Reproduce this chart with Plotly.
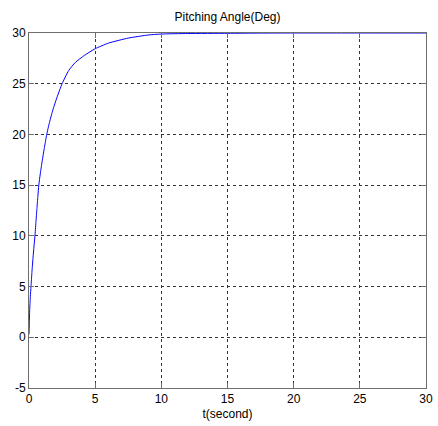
import plotly.graph_objects as go

# Pitching angle step response (degrees) versus time (seconds)
t_sec = [0, 0.02, 0.05, 0.1, 0.15, 0.22, 0.3, 0.38, 0.45, 0.52, 0.6, 0.67, 0.74, 0.85,
         1.0, 1.15, 1.34, 1.55, 1.8, 2.1, 2.5, 3.0, 3.5, 4.2, 5.0, 6.0, 7.5, 9.0,
         10.0, 12.0, 15.0, 17.5, 20.0, 25.0, 30.0]
pitch_deg = [0.3, 1.2, 2.6, 4.0, 5.0, 6.4, 7.8, 9.0, 10.0, 11.3, 12.7, 13.9, 15.0, 16.1,
             17.4, 18.6, 20.0, 21.2, 22.4, 23.6, 25.0, 26.3, 27.1, 27.8, 28.45, 29.0, 29.5, 29.8,
             29.9, 29.95, 29.97, 29.99, 30.0, 30.0, 30.0]

x_ticks = [0, 5, 10, 15, 20, 25, 30]
y_ticks = [-5, 0, 5, 10, 15, 20, 25, 30]

fig = go.Figure()
fig.add_trace(go.Scatter(
    x=t_sec, y=pitch_deg, mode="lines",
    line=dict(color="#0000ff", width=1, shape="spline", smoothing=0.5),
    cliponaxis=False, showlegend=False,
))

axis_common = dict(
    showline=True, linecolor="#6e6e6e", linewidth=1, mirror="ticks",
    ticks="inside", ticklen=5, tickcolor="#6e6e6e",
    showgrid=True, gridcolor="#333333", gridwidth=1, griddash="3px,3px",
    zeroline=False, ticklabeloverflow="allow",
    tickfont=dict(family="Liberation Sans, Arial, sans-serif", size=12, color="#000000"),
)

fig.update_layout(
    width=438, height=426,
    margin=dict(l=29, r=5.5, t=33, b=37.5),
    paper_bgcolor="#ffffff", plot_bgcolor="#ffffff",
    title=dict(
        text="Pitching Angle(Deg)", x=0.5, xref="paper", xanchor="center",
        y=1 - 17 / 426, yanchor="middle",
        font=dict(family="Liberation Sans, Arial, sans-serif", size=12, color="#000000"),
    ),
    xaxis=dict(
        range=[0, 30], tickvals=x_ticks, ticktext=[str(v) for v in x_ticks],
        title=dict(text="t(second)", standoff=4,
                   font=dict(family="Liberation Sans, Arial, sans-serif", size=12, color="#000000")),
        **axis_common,
    ),
    yaxis=dict(
        range=[-5, 30], tickvals=y_ticks, ticktext=[str(v) for v in y_ticks],
        **axis_common,
    ),
)

fig.write_html("out.html")
